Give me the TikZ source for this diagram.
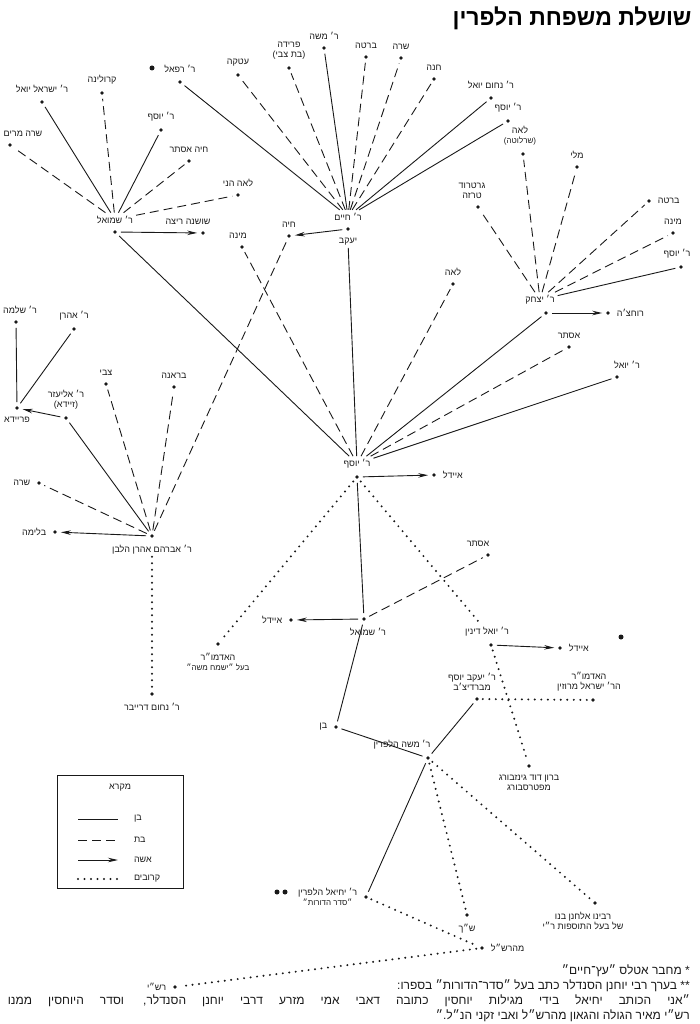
\documentclass[tikz,border=0pt]{standalone}
\usepackage{fontspec}
\setmainfont{Liberation Sans}[Script=Hebrew]
\usepackage{tikz}
\usetikzlibrary{positioning,arrows.meta}
\TeXXeTstate=1
\definecolor{Ink}{RGB}{25,25,25}
\newcommand{\subtext}{\fontsize{8}{9}\selectfont}

\begin{document}
\begin{tikzpicture}[x=1pt, y=-1pt,
    pers/.style={circle, fill=Ink, inner sep=0pt, minimum size=3.6pt, outer sep=4pt, label distance=0pt},
    starmark/.style={circle, fill=Ink, inner sep=0pt, minimum size=5pt},
    lbl/.style={font=\fontsize{9}{10}\selectfont, text=Ink, inner sep=1pt, outer sep=2pt, align=center},
    note/.style={font=\fontsize{12}{14}\selectfont, text=Ink, inner sep=0pt, anchor=east},
    son/.style={Ink, line width=0.9pt},
    daughter/.style={Ink, line width=0.9pt, dash pattern=on 9pt off 5pt},
    wife/.style={->, >={Stealth[length=10pt, width=4.5pt]}, Ink, line width=0.9pt},
    kin/.style={Ink, line width=2.2pt, line cap=round, dash pattern=on 0pt off 6.5pt},
]
\useasboundingbox (0,0) rectangle (699,1024);

\node[font=\bfseries\fontsize{23}{26}\selectfont, anchor=east] (title) at (695,18) {\beginR שושלת משפחת הלפרין\endR};

% ר' חיים and his children
\node[pers, label={[lbl, name=chaimT]above:\beginR ר׳ חיים\endR}, label={[lbl, name=chaimB]below:\beginR יעקב\endR}] (chaim) at (348,229) {};
\node[pers, label={[lbl]above:\beginR ר׳ רפאל\endR}] (refael) at (180,82) {};
\node[starmark] (star1) at (152,68) {};
\node[pers, label={[lbl]above:\beginR פרידה\endR\\\beginR (בת צבי)\endR}] (frida) at (289,68) {};
\node[pers, label={[lbl]above:\beginR עטקה\endR}] (etka) at (238,75) {};
\node[pers, label={[lbl]above:\beginR ר׳ משה\endR}] (moshetop) at (324,48) {};
\node[pers, label={[lbl]above:\beginR ברטה\endR}] (bertatop) at (366,57) {};
\node[pers, label={[lbl]above:\beginR שרה\endR}] (saratop) at (401,58) {};
\node[pers, label={[lbl]above:\beginR חנה\endR}] (chana) at (434,79) {};
\node[pers, label={[lbl]above:\beginR ר׳ נחום יואל\endR}] (nachumyoel) at (491,98) {};
\node[pers, label={[lbl]above:\beginR ר׳ יוסף\endR}] (yoseftop) at (508,121) {};
\node[pers, label={[lbl]above:\beginR חיה\endR}] (chaya) at (289,236) {};
\node[pers, label={[lbl, xshift=-4pt]above:\beginR מינה\endR}] (minal) at (242,247) {};

\draw[son] (chaimT) -- (refael);
\draw[daughter] (chaimT) -- (etka);
\draw[daughter] (chaimT) -- (frida);
\draw[son] (chaimT) -- (moshetop);
\draw[daughter] (chaimT) -- (bertatop);
\draw[daughter] (chaimT) -- (saratop);
\draw[daughter] (chaimT) -- (chana);
\draw[son] (chaimT) -- (nachumyoel);
\draw[son] (chaimT) -- (yoseftop);
\draw[wife] (chaim) -- (chaya);

% ר' שמואל
\node[pers, label={[lbl, name=shmuelT]above:\beginR ר׳ שמואל\endR}] (shmueltop) at (115,232) {};
\node[pers, label={[lbl, xshift=-15pt]above:\beginR שושנה ריצה\endR}] (shoshana) at (203,233) {};
\node[pers, label={[lbl]above:\beginR ר׳ ישראל יואל\endR}] (yisraelyoel) at (42,102) {};
\node[pers, label={[lbl]above:\beginR קרולינה\endR}] (karolina) at (102,93) {};
\node[pers, label={[lbl, xshift=13pt]above:\beginR שרה מרים\endR}] (saramiriam) at (10,145) {};
\node[pers, label={[lbl]above:\beginR ר׳ יוסף\endR}] (yosefl) at (161,130) {};
\node[pers, label={[lbl]above:\beginR חיה אסתר\endR}] (chayaesther) at (189,161) {};
\node[pers, label={[lbl]above:\beginR לאה הני\endR}] (leaheni) at (238,195) {};

\draw[son] (shmuelT) -- (yisraelyoel);
\draw[daughter] (shmuelT) -- (karolina);
\draw[daughter] (shmuelT) -- (saramiriam);
\draw[son] (shmuelT) -- (yosefl);
\draw[daughter] (shmuelT) -- (chayaesther);
\draw[daughter] (shmuelT) -- (leaheni);
\draw[wife] (shmueltop) -- (shoshana);

% ר' יצחק
\node[pers, label={[lbl, name=yitzchakT, xshift=-6pt]above:\beginR ר׳ יצחק\endR}] (yitzchak) at (546,313) {};
\node[pers, label={[lbl]right:\beginR רוחצ׳ה\endR}] (rochtze) at (608,313) {};
\node[pers, label={[lbl, xshift=-6pt]above:\beginR גרטרוד\endR\\\beginR טרזה\endR}] (gertrud) at (478,207) {};
\node[pers, label={[lbl, xshift=-3pt]above:\beginR לאה\endR\\{\subtext\beginR (שרלוטה)\endR}}] (leash) at (523,154) {};
\node[pers, label={[lbl]above:\beginR מלי\endR}] (mali) at (577,167) {};
\node[pers, label={[lbl]right:\beginR ברטה\endR}] (bertar) at (649,201) {};
\node[pers, label={[lbl]above:\beginR מינה\endR}] (minar) at (673,233) {};
\node[pers, label={[lbl, xshift=-4pt]above:\beginR ר׳ יוסף\endR}] (yosefr) at (681,267) {};

\draw[daughter] (yitzchakT) -- (gertrud);
\draw[daughter] (yitzchakT) -- (leash);
\draw[daughter] (yitzchakT) -- (mali);
\draw[daughter] (yitzchakT) -- (bertar);
\draw[daughter] (yitzchakT) -- (minar);
\draw[son] (yitzchakT) -- (yosefr);
\draw[wife] (yitzchak) -- (rochtze);

% ר' יוסף
\node[pers, label={[lbl, name=yosefT]above:\beginR ר׳ יוסף\endR}] (yosef) at (357,477) {};
\node[pers, label={[lbl]right:\beginR איידל\endR}] (eidela) at (434,475) {};
\node[pers, label={[lbl]above:\beginR לאה\endR}] (leac) at (453,284) {};
\node[pers, label={[lbl]above:\beginR אסתר\endR}] (estherr) at (569,347) {};
\node[pers, label={[lbl, xshift=10pt]above:\beginR ר׳ יואל\endR}] (yoelr) at (617,377) {};

\draw[son] (yosefT) -- (chaimB);
\draw[son] (yosefT) -- (shmueltop);
\draw[daughter] (yosefT) -- (minal);
\draw[daughter] (yosefT) -- (leac);
\draw[son] (yosefT) -- (yitzchak);
\draw[daughter] (yosefT) -- (estherr);
\draw[son] (yosefT) -- (yoelr);
\draw[wife] (yosef) -- (eidela);

% ר' אברהם אהרן הלבן
\node[pers, label={[lbl, name=avrahamB]below:\beginR ר׳ אברהם אהרן הלבן\endR}] (avraham) at (152,536) {};
\node[pers, label={[lbl]above:\beginR ר׳ אליעזר\endR\\\beginR (זיידא)\endR}] (eliezer) at (66,418) {};
\node[pers, label={[lbl]below:\beginR פריידא\endR}] (freida) at (17,408) {};
\node[pers, label={[lbl, xshift=4pt]above:\beginR ר׳ שלמה\endR}] (shlomo) at (16,322) {};
\node[pers, label={[lbl]above:\beginR ר׳ אהרן\endR}] (aharon) at (74,329) {};
\node[pers, label={[lbl]above:\beginR צבי\endR}] (tzvi) at (106,384) {};
\node[pers, label={[lbl]above:\beginR בראנה\endR}] (brana) at (174,387) {};
\node[pers, label={[lbl]left:\beginR שרה\endR}] (saral) at (39,483) {};
\node[pers, label={[lbl]left:\beginR בלימה\endR}] (blima) at (55,532) {};
\node[pers, label={[lbl]below:\beginR ר׳ נחום דרייבר\endR}] (nachumd) at (152,694) {};

\draw[son] (avraham) -- (eliezer);
\draw[daughter] (avraham) -- (tzvi);
\draw[daughter] (avraham) -- (brana);
\draw[daughter] (avraham) -- (chaya);
\draw[daughter] (avraham) -- (saral);
\draw[wife] (avraham) -- (blima);
\draw[kin] (avrahamB) -- (nachumd);
\draw[wife] (eliezer) -- (freida);
\draw[son] (freida) -- (shlomo);
\draw[son] (freida) -- (aharon);

% ר' שמואל, ר' יואל דינין
\node[pers, label={[lbl]below:\beginR האדמו״ר\endR\\{\subtext\beginR בעל ״ישמח משה״\endR}}] (admora) at (218,644) {};
\node[pers, label={[lbl, xshift=4pt]below:\beginR ר׳ שמואל\endR}] (shmuelb) at (364,619) {};
\node[pers, label={[lbl]left:\beginR איידל\endR}] (eidelb) at (291,620) {};
\node[pers, label={[lbl, xshift=-10pt]above:\beginR אסתר\endR}] (estherb) at (488,555) {};
\node[pers, label={[lbl, name=yoeldT, xshift=-4pt]above:\beginR ר׳ יואל דינין\endR}] (yoeld) at (491,645) {};
\node[pers, label={[lbl]right:\beginR איידל\endR}] (eidelc) at (560,648) {};
\node[starmark] (star2) at (621,637) {};
\node[pers, label={[lbl, xshift=-5pt]above:\beginR ר׳ יעקב יוסף\endR\\\beginR מברדיצ׳ב\endR}] (yaakov) at (477,699) {};
\node[pers, label={[lbl, xshift=-4pt]above:\beginR האדמו״ר\endR\\\beginR הר׳ ישראל מרוזין\endR}] (admorb) at (593,700) {};
\node[pers, label={[lbl]left:\beginR בן\endR}] (ben) at (336,727) {};
\node[pers, label={[lbl, xshift=-26pt]above:\beginR ר׳ משה הלפרין\endR}] (moshe) at (428,758) {};
\node[pers, label={[lbl]below:\beginR ברון דוד גינזבורג\endR\\\beginR מפטרסבורג\endR}] (ginzburg) at (529,766) {};

\draw[kin] (yosef) -- (admora);
\draw[son] (yosef) -- (shmuelb);
\draw[kin] (yosef) -- (yoeldT);
\draw[wife] (shmuelb) -- (eidelb);
\draw[daughter] (shmuelb) -- (estherb);
\draw[son] (shmuelb) -- (ben);
\draw[son] (ben) -- (moshe);
\draw[son] (yaakov) -- (moshe);
\draw[kin] (yaakov) -- (admorb);
\draw[wife] (yoeld) -- (eidelc);
\draw[kin] (yoeld) -- (ginzburg);

% ר' משה הלפרין
\node[pers, label={[lbl]left:\beginR ר׳ יחיאל הלפרין\endR\\{\subtext\beginR ״סדר הדורות״\endR}}] (yechiel) at (366,897) {};
\node[starmark] (star3) at (277,892) {};
\node[starmark] (star4) at (285,892) {};
\node[pers, label={[lbl]below:\beginR ש״ך\endR}] (shach) at (467,915) {};
\node[pers, label={[lbl, xshift=-12pt]below:\beginR רבינו אלחנן בנו\endR\\\beginR של בעל התוספות ר״י\endR}] (elchanan) at (595,903) {};
\node[pers, label={[lbl]right:\beginR מהרש״ל\endR}] (maharshal) at (482,948) {};
\node[pers, label={[lbl]left:\beginR רש״י\endR}] (rashi) at (175,987) {};

\draw[son] (moshe) -- (yechiel);
\draw[kin] (moshe) -- (shach);
\draw[kin] (moshe) -- (elchanan);
\draw[kin] (yechiel) -- (maharshal);
\draw[kin] (maharshal) -- (rashi);

% מקרא
\node[draw=Ink, line width=0.8pt, minimum width=126pt, minimum height=113pt] (key) at (120,831.5) {};
\node[lbl, below=6pt of key.north] (keytitle) {\beginR מקרא\endR};
\foreach \sty/\txt/\yy [count=\i] in {son/בן/819, daughter/בת/840, wife/אשה/860, kin/קרובים/879} {
  \coordinate (ka\i) at (78,\yy);
  \coordinate (kb\i) at (118,\yy);
  \draw[\sty] (ka\i) -- (kb\i);
  \node[lbl, anchor=west] (kt\i) at (131,\yy) {\beginR\txt\endR};
}

% footnotes
\node[note] (fna) at (690,971) {\beginR * מחבר אטלס ״עץ־חיים״\endR};
\node[note] (fnb) at (690,986) {\beginR ** בערך רבי יוחנן הסנדלר כתב בעל ״סדר־הדורות״ בספרו:\endR};
\node[note] (fnc) at (690,1001) {\makebox[682pt][s]{\beginR ״אני הכותב יחיאל בידי מגילות יוחסין כתובה דאבי אמי מזרע דרבי יוחנן הסנדלר, וסדר היוחסין ממנו\endR}};
\node[note] (fnd) at (690,1016) {\beginR רש״י מאיר הגולה והגאון מהרש״ל ואבי זקני הנ״ל.״\endR};
\end{tikzpicture}
\end{document}
